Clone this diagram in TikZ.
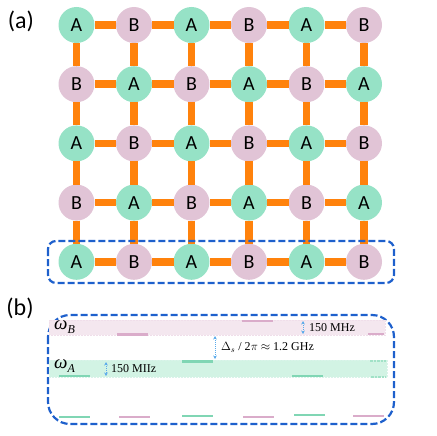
\documentclass[tikz,border=0pt]{standalone}
\usepackage{fontspec}
\setmainfont{Carlito}
\newfontfamily\tnr{Liberation Serif}
\usetikzlibrary{arrows.meta}

\definecolor{siteA}{RGB}{150,226,198}
\definecolor{siteB}{RGB}{225,196,214}
\definecolor{bondc}{RGB}{255,130,12}
\definecolor{framec}{RGB}{30,96,204}
\definecolor{bandB}{RGB}{244,231,239}
\definecolor{bandA}{RGB}{210,243,228}
\definecolor{levelB}{RGB}{218,172,202}
\definecolor{levelA}{RGB}{128,214,180}
\definecolor{gapc}{RGB}{90,170,235}

\tikzset{
  asite/.style={circle, fill=siteA, minimum size=36pt, inner sep=0pt, outer sep=0pt,
    font=\fontsize{20}{24}\selectfont},
  bsite/.style={asite, fill=siteB},
  bondline/.style={bondc, line width=7.5pt},
  frameline/.style={framec, line width=2.2pt, dash pattern=on 7pt off 3pt},
  levelline/.style={line width=2.5pt},
  gaparrow/.style={gapc, densely dotted, line width=1pt,
    {Stealth[length=3.5pt,width=3.5pt]}-{Stealth[length=3.5pt,width=3.5pt]}},
  gaplabel/.style={anchor=west, inner sep=0pt, font=\tnr\fontsize{12}{14}\selectfont},
  bandlabel/.style={anchor=west, inner sep=0pt, font=\tnr\itshape\fontsize{19}{22}\selectfont}
}
\newcommand{\bandsub}[1]{\raisebox{-0.45ex}{\fontsize{12}{14}\selectfont #1}}

\begin{document}
\begin{tikzpicture}[x=1pt, y=-1pt]
  \useasboundingbox (0,0) rectangle (436,436);

  % Panel labels
  \node[font=\fontsize{24}{28}\selectfont] (labela) at (21,21) {(a)};
  \node[font=\fontsize{24}{28}\selectfont] (labelb) at (20,308) {(b)};

  % Lattice sites
  \foreach \r in {1,...,5}{
    \foreach \c in {1,...,6}{
      \pgfmathtruncatemacro\kind{mod(\r+\c,2)}
      \ifnum\kind=0
        \node[asite] (s-\r-\c) at ({76.5+57.5*(\c-1)},{25+59.2*(\r-1)}) {A};
      \else
        \node[bsite] (s-\r-\c) at ({76.5+57.5*(\c-1)},{25+59.2*(\r-1)}) {B};
      \fi
    }
  }

  % Horizontal bonds
  \foreach \r in {1,...,5}{
    \foreach \c [evaluate=\c as \n using int(\c+1)] in {1,...,5}{
      \draw[bondline] (s-\r-\c) -- (s-\r-\n);
    }
  }
  % Vertical bonds
  \foreach \r [evaluate=\r as \n using int(\r+1)] in {1,...,4}{
    \foreach \c in {1,...,6}{
      \draw[bondline] (s-\r-\c) -- (s-\n-\c);
    }
  }

  % Dashed frames
  \draw[frameline, rounded corners=8pt] (48,241) rectangle (394,283);
  \draw[frameline, rounded corners=22pt] (48,315) rectangle (394,424);

  % Frequency bands
  \fill[bandB] (49,320) rectangle (385,335);
  \draw[white!60!levelB, densely dotted, line width=0.5pt] (49,320) rectangle (385,335);
  \fill[bandA] (49,360) rectangle (387,377);
  \draw[white!70!levelA, densely dotted, line width=0.5pt] (49,360) rectangle (387,377);

  % Levels inside the bands
  \draw[levelline, levelB] (242,321) -- (273,321);
  \draw[levelline, levelB] (117,334.5) -- (148,334.5);
  \draw[levelline, levelB] (368,334) -- (384,334);
  \draw[levelline, levelA] (182,361.5) -- (213,361.5);
  \draw[levelline, levelA] (59,376) -- (90,376);
  \draw[levelline, levelA] (292,376) -- (323,376);
  \draw[levelline, levelA!60!bandA, densely dotted] (370,361) -- (386,361);
  \draw[levelline, levelA!60!bandA, densely dotted] (371,377) -- (386,377);

  % Levels of the single chain
  \draw[levelline, levelA] (59,417) -- (90,417);
  \draw[levelline, levelB] (119,417) -- (150,417);
  \draw[levelline, levelA] (182,416) -- (213,416);
  \draw[levelline, levelB] (243,417) -- (274,417);
  \draw[levelline, levelA] (294,415) -- (325,415);
  \draw[levelline, levelB] (353,416) -- (384,416);

  % Band labels
  \node[bandlabel] (wB) at (54,327) {ω\bandsub{B}};
  \node[bandlabel] (wA) at (54,366) {ω\bandsub{A}};

  % Widths and gap
  \draw[gaparrow] (303,321) -- (303,334);
  \node[gaplabel] (widthB) at (309,327.5) {150 MHz};
  \draw[gaparrow] (215,336) -- (215,359);
  \node[gaplabel] (gapAB) at (221,347.5) {$\Delta_s$ / 2$\pi$ $\approx$ 1.2 GHz};
  \draw[gaparrow] (106,362) -- (106,376);
  \node[gaplabel] (widthA) at (111,368.5) {150 MIIz};
\end{tikzpicture}
\end{document}
